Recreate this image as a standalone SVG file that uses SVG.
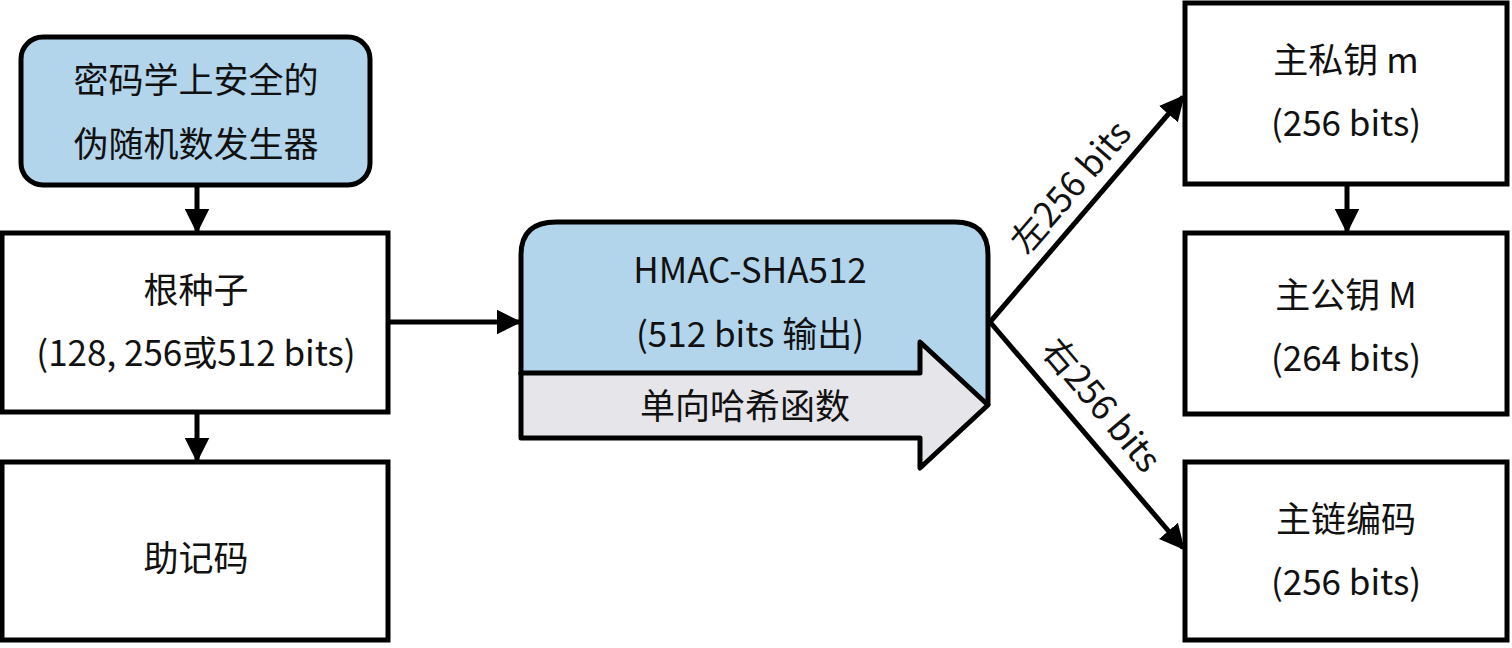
<svg xmlns="http://www.w3.org/2000/svg" width="1512" height="648" viewBox="0 0 1512 648">
<defs>
<style>
.b{fill:#fff;stroke:#000;stroke-width:5}
.t{font-family:"Noto Sans CJK SC","Noto Sans",sans-serif;font-size:35px;fill:#111;text-anchor:middle}
.c{stroke:#000;stroke-width:5;fill:none;marker-end:url(#a)}
</style>
<marker id="a" viewBox="0 0 10 10" refX="9" refY="5" markerWidth="5" markerHeight="5" orient="auto" markerUnits="strokeWidth"><path d="M0,0L10,5L0,10z"/></marker>
</defs>
<rect width="1512" height="648" fill="#fff"/>
<g id="prng"><rect x="21" y="37" width="349" height="148" rx="22" fill="#b3d5ec" stroke="#000" stroke-width="5"/><text class="t" x="196" y="93">密码学上安全的</text><text class="t" x="196" y="157">伪随机数发生器</text></g>
<g id="seed"><rect class="b" x="2" y="233" width="386" height="179"/><text class="t" x="196" y="303">根种子</text><text class="t" x="196" y="366">(128, 256或512 bits)</text></g>
<g id="mnemonic"><rect class="b" x="2" y="462" width="386" height="178"/><text class="t" x="196" y="571">助记码</text></g>
<g id="hmac">
<path d="M521,440V255Q521,222 556,222H955Q988,222 988,255V405Z" fill="#b3d5ec"/>
<path d="M521,375V255Q521,222 556,222H955Q988,222 988,255V405" fill="none" stroke="#000" stroke-width="5"/>
<polygon points="521,373 920,373 920,342 988,405 920,468 920,438 521,438" fill="#e6e5ea" stroke="#000" stroke-width="5" stroke-linejoin="round"/>
<text class="t" x="750" y="283">HMAC-SHA512</text><text class="t" x="750" y="347">(512 bits 输出)</text><text class="t" x="745" y="419">单向哈希函数</text>
</g>
<g id="mpriv"><rect class="b" x="1185" y="3" width="322" height="181"/><text class="t" x="1346" y="73">主私钥 m</text><text class="t" x="1346" y="136">(256 bits)</text></g>
<g id="mpub"><rect class="b" x="1185" y="233" width="322" height="181"/><text class="t" x="1346" y="308">主公钥 M</text><text class="t" x="1346" y="371">(264 bits)</text></g>
<g id="chain"><rect class="b" x="1185" y="462" width="322" height="178"/><text class="t" x="1346" y="532">主链编码</text><text class="t" x="1346" y="595">(256 bits)</text></g>
<g id="connectors">
<line class="c" x1="197" y1="185" x2="197" y2="231"/>
<line class="c" x1="197" y1="412" x2="197" y2="460"/>
<line class="c" x1="388" y1="322" x2="519" y2="322"/>
<line class="c" x1="990" y1="322" x2="1183" y2="97"/>
<line class="c" x1="990" y1="322" x2="1183" y2="548"/>
<line class="c" x1="1347" y1="184" x2="1347" y2="231"/>
<text class="t" transform="translate(1080,195) rotate(-49)">左256 bits</text>
<text class="t" transform="translate(1092,413) rotate(50)">右256 bits</text>
</g>
</svg>
